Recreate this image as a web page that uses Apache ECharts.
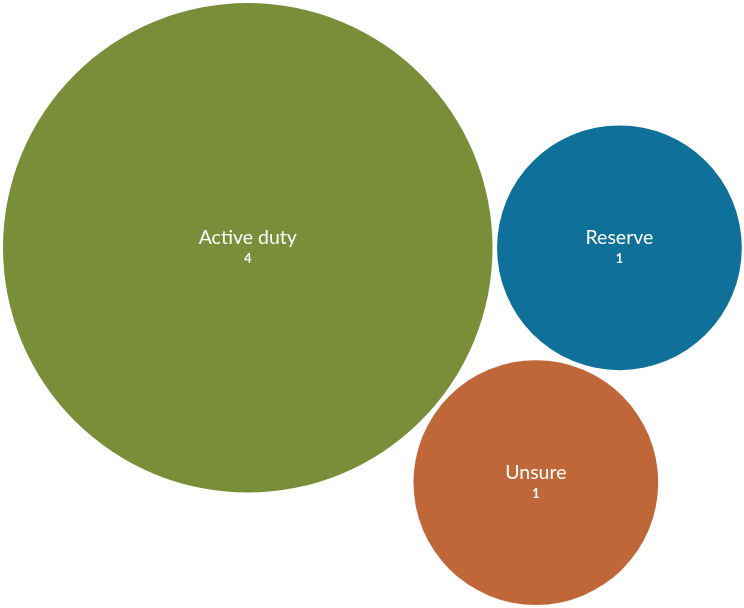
<!DOCTYPE html>
<html>
<head>
<meta charset="utf-8">
<script src="https://cdn.jsdelivr.net/npm/echarts@6/dist/echarts.min.js"></script>
<style>html,body{margin:0;padding:0;background:#fff;}#c{width:744px;height:608px;}</style>
</head>
<body>
<div id="c"></div>
<script>
var categories = ['Active duty', 'Reserve', 'Unsure'];
var values = [4, 1, 1];
var colors = ['#7a8e3a', '#0f7099', '#c0673a'];

// packing layout (in value-radius units: r = sqrt(v))
var pad = 0.037;
var r = values.map(function (v) { return Math.sqrt(v); });
var c0 = [0, 0];
var D = r[0] + r[1] + pad;
var c1 = [D, 0];
var d02 = r[0] + r[2] + pad, d12 = r[1] + r[2] + pad;
var px = (d02 * d02 - d12 * d12 + D * D) / (2 * D);
var py = Math.sqrt(d02 * d02 - px * px);
var c2 = [px, py];
var centers = [c0, c1, c2];

var xmin = Infinity, xmax = -Infinity, ymin = Infinity, ymax = -Infinity;
centers.forEach(function (c, i) {
  xmin = Math.min(xmin, c[0] - r[i]); xmax = Math.max(xmax, c[0] + r[i]);
  ymin = Math.min(ymin, c[1] - r[i]); ymax = Math.max(ymax, c[1] + r[i]);
});
var W = 744, H = 608, gl = 3, gr = 2, gt = 3, gb = 3;
var gw = W - gl - gr, gh = H - gt - gb;
var scale = Math.min(gw / (xmax - xmin), gh / (ymax - ymin));

var data = centers.map(function (c, i) {
  return {
    value: [c[0], c[1], values[i]],
    name: categories[i],
    symbolSize: 2 * r[i] * scale,
    itemStyle: { color: colors[i], opacity: 1 }
  };
});

var chart = echarts.init(document.getElementById('c'));
chart.setOption({
  animation: false,
  grid: { left: gl, right: gr, top: gt, bottom: gb },
  xAxis: { type: 'value', show: false, min: xmin, max: xmin + gw / scale },
  yAxis: { type: 'value', show: false, inverse: true, min: ymin, max: ymin + gh / scale },
  series: [{
    type: 'scatter',
    symbol: 'circle',
    data: data,
    itemStyle: { opacity: 1 },
    label: {
      show: true,
      position: 'inside',
      offset: [0, 1.5],
      formatter: function (p) { return '{n|' + p.name + '}\n{v|' + p.value[2] + '}'; },
      rich: {
        n: { color: '#fff', fontFamily: 'Lato', fontSize: 19.5, lineHeight: 19 },
        v: { color: '#fff', fontFamily: 'Lato', fontSize: 12.5, fontWeight: 'bold', lineHeight: 23 }
      }
    },
    emphasis: { disabled: true }
  }]
});
</script>
</body>
</html>
